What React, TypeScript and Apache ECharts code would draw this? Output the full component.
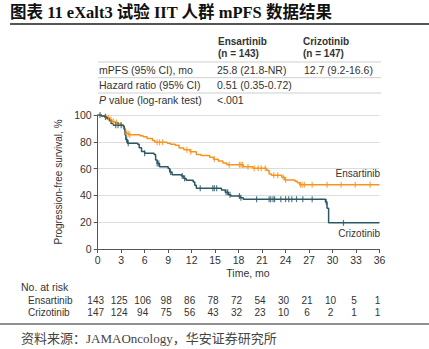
import React, { useEffect, useRef } from "react";
import * as echarts from "echarts";

// Kaplan-Meier step data [month, survival %]
const ensartinibCurve: [number, number][] = [
  [0, 100], [0.5, 99.3], [0.9, 98.6], [1.2, 97.9], [1.5, 96.5], [1.8, 95.1], [2.2, 94.4], [2.6, 93.7],
  [3.0, 92.3], [3.3, 90.2], [3.5, 87.4], [3.7, 86], [4.0, 85.3], [5.4, 84.5], [5.8, 83.8], [6.3, 82.5],
  [7.0, 81], [7.3, 79.6], [8.9, 79.0], [9.3, 78.2], [9.9, 77.5], [10.4, 75.4], [11.0, 74], [11.8, 72.6],
  [12.6, 70.5], [13.2, 69.8], [14.3, 68.4], [14.8, 67], [15.4, 65.6], [16.0, 64.2], [16.5, 62.8],
  [18.6, 61.4], [19.8, 60.2], [21.6, 58.5], [21.9, 56], [22.2, 55], [23.5, 53.5], [23.9, 51.5],
  [25.2, 50.5], [25.5, 49.5], [25.8, 48], [36, 48],
];
const crizotinibCurve: [number, number][] = [
  [0, 100], [0.5, 99.3], [0.9, 98.6], [1.2, 97.2], [1.5, 95.8], [1.7, 93.7], [2.0, 92.3], [3.3, 91.5],
  [3.4, 89], [3.5, 85], [3.6, 81.6], [3.8, 79], [5.1, 78.2], [5.3, 75.5], [5.6, 72.8], [6.0, 71.4],
  [7.2, 70.5], [7.4, 66.5], [7.6, 63.8], [7.9, 61.4], [9.0, 60.1], [9.2, 57.4], [9.5, 55.4], [10.7, 54.4],
  [11.0, 52.7], [11.3, 51.3], [12.2, 50], [12.4, 47.5], [12.6, 45.3], [15.8, 44], [16.3, 42.3],
  [16.7, 40.5], [17.0, 39.5], [18.2, 38.2], [18.6, 37.2], [29.1, 35], [29.3, 30.5], [29.5, 19.5], [36, 19.5],
];
// censoring times (months)
const ensartinibCensored = [
  1.0, 1.4, 1.7, 2.0, 2.4, 3.6, 3.9, 4.1, 7.6, 7.9, 8.3, 11.4, 11.9, 14.9, 16.8, 18.1, 18.3, 18.5, 19.2,
  20.0, 20.5, 20.9, 21.4, 22.5, 23.0, 23.7, 24.0, 25.9, 26.1, 26.4, 27.4, 29.3, 31.1, 32.9, 34.8,
];
const crizotinibCensored = [
  0.3, 1.0, 2.3, 2.6, 3.0, 3.7, 3.9, 6.0, 7.6, 7.8, 9.3, 10.8, 11.1, 13.1, 14.7, 14.9, 15.2, 16.4,
  16.6, 16.9, 18.1, 18.3, 20.3, 21.9, 22.1, 22.4, 22.6, 23.4, 24.0, 24.4, 24.8, 25.4, 26.2, 27.4, 29.2, 31.4,
];

const xTicks = [0, 3, 6, 9, 12, 15, 18, 21, 24, 27, 30, 33, 36];
const ensartinibAtRisk = [143, 125, 106, 98, 86, 78, 72, 54, 30, 21, 10, 5, 1];
const crizotinibAtRisk = [147, 124, 94, 75, 56, 43, 32, 23, 10, 6, 2, 1, 1];

const groups = ["Ensartinib", "Crizotinib"];
const groupN = ["(n = 143)", "(n = 147)"];
const tableRows = ["mPFS (95% CI), mo", "Hazard ratio (95% CI)", "P value (log-rank test)"];
const tableEns = ["25.8 (21.8-NR)", "0.51 (0.35-0.72)", "<.001"];
const tableCri = ["12.7 (9.2-16.6)", "", ""];

const ORANGE = "#F7941D";
const TEAL = "#2C5866";
const TXT = "#333333";
const SANS = "'Liberation Sans', Arial, sans-serif";
const SERIF = "'Liberation Serif', 'Noto Sans CJK SC', serif";

function survAt(curve: [number, number][], t: number): number {
  let s = curve[0][1];
  for (const [ct, cs] of curve) {
    if (ct <= t) s = cs;
    else break;
  }
  return s;
}

export default function App() {
  const ref = useRef<HTMLDivElement>(null);
  useEffect(() => {
    if (!ref.current) return;
    const chart = echarts.init(ref.current, null, { renderer: "svg" });
    const grid = { left: 97.7, right: 49.5, top: 115, bottom: 100 };
    const option: any = {
      animation: false,
      backgroundColor: "#ffffff",
      grid,
      xAxis: {
        type: "value",
        min: 0,
        max: 36,
        interval: 3,
        axisLine: { lineStyle: { color: "#555", width: 1 } },
        axisTick: { show: true, length: 4, lineStyle: { color: "#555" } },
        axisLabel: { color: TXT, fontSize: 10.5, fontFamily: SANS, margin: 5 },
        splitLine: { show: false },
      },
      yAxis: {
        type: "value",
        min: 0,
        max: 100,
        interval: 20,
        name: "Progression-free survival, %",
        nameLocation: "middle",
        nameGap: 33,
        nameTextStyle: { color: TXT, fontSize: 10, fontFamily: SANS },
        axisLine: { show: true, lineStyle: { color: "#555", width: 1 } },
        axisTick: { show: true, length: 4, lineStyle: { color: "#555" } },
        axisLabel: { color: TXT, fontSize: 10.5, fontFamily: SANS, margin: 6 },
        splitLine: { show: true, lineStyle: { color: "#dddddd", width: 1 } },
      },
      series: [
        {
          type: "line",
          step: "end",
          data: ensartinibCurve,
          symbol: "none",
          lineStyle: { color: ORANGE, width: 1.5 },
          z: 3,
        },
        {
          type: "line",
          step: "end",
          data: crizotinibCurve,
          symbol: "none",
          lineStyle: { color: TEAL, width: 1.5 },
          z: 4,
        },
        {
          type: "scatter",
          data: ensartinibCensored.map((t) => [t, survAt(ensartinibCurve, t)]),
          symbol: "rect",
          symbolSize: [1.2, 6],
          itemStyle: { color: ORANGE },
          z: 5,
        },
        {
          type: "scatter",
          data: crizotinibCensored.map((t) => [t, survAt(crizotinibCurve, t)]),
          symbol: "rect",
          symbolSize: [1.2, 6],
          itemStyle: { color: TEAL },
          z: 6,
        },
      ],
    };
    chart.setOption(option);

    const px = (t: number) => chart.convertToPixel({ xAxisIndex: 0 }, t) as number;
    const g: any[] = [];
    // Title
    g.push({
      type: "text",
      x: 10,
      y: 12,
      style: {
        text: "图表 11 eXalt3 试验 IIT 人群 mPFS 数据结果",
        fontSize: 16.5,
        fontWeight: "bold",
        fontFamily: SERIF,
        fill: "#111",
        verticalAlign: "middle",
      },
    });
    g.push({ type: "line", shape: { x1: 10, y1: 24, x2: 429, y2: 24 }, style: { stroke: "#555", lineWidth: 2 } });

    // Table header
    const colX = [218, 303];
    groups.forEach((name, i) => {
      g.push({ type: "text", x: colX[i], y: 41, style: { text: name, fontSize: 10, fontWeight: "bold", fontFamily: SANS, fill: TXT, verticalAlign: "middle" } });
      g.push({ type: "text", x: colX[i], y: 53, style: { text: groupN[i], fontSize: 10, fontWeight: "bold", fontFamily: SANS, fill: TXT, verticalAlign: "middle" } });
    });
    const rowY = [70, 85, 100];
    const lineY = [62, 77.7, 93];
    lineY.forEach((y) => g.push({ type: "line", shape: { x1: 98, y1: y, x2: 381, y2: y }, style: { stroke: "#cfcfcf", lineWidth: 1 } }));
    tableRows.forEach((label, i) => {
      if (label.startsWith("P ")) {
        g.push({
          type: "text", x: 99, y: rowY[i],
          style: {
            text: "{i|P}" + label.slice(1),
            fontSize: 10.5, fontFamily: SANS, fill: TXT, verticalAlign: "middle",
            rich: { i: { fontStyle: "italic", fontSize: 10.5, fontFamily: SANS, fill: TXT } },
          },
        });
      } else {
        g.push({ type: "text", x: 99, y: rowY[i], style: { text: label, fontSize: 10.5, fontFamily: SANS, fill: TXT, verticalAlign: "middle" } });
      }
      g.push({ type: "text", x: 217, y: rowY[i], style: { text: tableEns[i], fontSize: 10.5, fontFamily: SANS, fill: TXT, verticalAlign: "middle" } });
      if (tableCri[i]) g.push({ type: "text", x: 304, y: rowY[i], style: { text: tableCri[i], fontSize: 10.5, fontFamily: SANS, fill: TXT, verticalAlign: "middle" } });
    });

    // Curve labels
    g.push({ type: "text", x: 380, y: 173, style: { text: "Ensartinib", fontSize: 10, fontFamily: SANS, fill: TXT, align: "right", verticalAlign: "middle" } });
    g.push({ type: "text", x: 380, y: 233, style: { text: "Crizotinib", fontSize: 10, fontFamily: SANS, fill: TXT, align: "right", verticalAlign: "middle" } });

    // X axis name
    g.push({ type: "text", x: 248, y: 273, style: { text: "Time, mo", fontSize: 10.5, fontFamily: SANS, fill: TXT, align: "center", verticalAlign: "middle" } });

    // At-risk table
    g.push({ type: "text", x: 21, y: 287, style: { text: "No. at risk", fontSize: 10.5, fontFamily: SANS, fill: TXT, verticalAlign: "middle" } });
    g.push({ type: "text", x: 28, y: 300.5, style: { text: groups[0], fontSize: 10, fontFamily: SANS, fill: TXT, verticalAlign: "middle" } });
    g.push({ type: "text", x: 28, y: 312.5, style: { text: groups[1], fontSize: 10, fontFamily: SANS, fill: TXT, verticalAlign: "middle" } });
    xTicks.forEach((t, i) => {
      const x = px(t) - 2;
      g.push({ type: "text", x, y: 300.5, style: { text: String(ensartinibAtRisk[i]), fontSize: 10, fontFamily: SANS, fill: TXT, align: "center", verticalAlign: "middle" } });
      g.push({ type: "text", x, y: 312.5, style: { text: String(crizotinibAtRisk[i]), fontSize: 10, fontFamily: SANS, fill: TXT, align: "center", verticalAlign: "middle" } });
    });

    // Footer
    g.push({ type: "line", shape: { x1: 0, y1: 324, x2: 429, y2: 324 }, style: { stroke: "#222", lineWidth: 1 } });
    g.push({
      type: "text", x: 21, y: 338,
      style: {
        text: "资料来源：JAMAOncology，华安证券研究所",
        fontSize: 13,
        fontFamily: SERIF,
        fill: "#444",
        verticalAlign: "middle",
      },
    });

    chart.setOption({ graphic: g });
    return () => chart.dispose();
  }, []);
  return <div ref={ref} style={{ width: 429, height: 349, position: "absolute", left: 0, top: 0 }} />;
}
